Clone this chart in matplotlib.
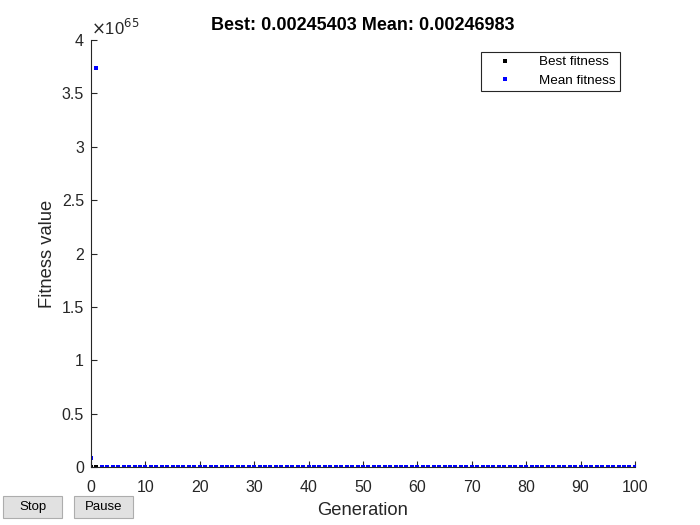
import matplotlib
matplotlib.use("Agg")
import matplotlib.pyplot as plt
from matplotlib.patches import Rectangle
from matplotlib.ticker import FuncFormatter

plt.rcParams['font.family'] = ['Liberation Sans', 'DejaVu Sans']

generations = list(range(101))

# best fitness per generation (tiny compared with the 1e65 scale)
best_fitness = [
    0.8312, 0.2147, 0.0473, 0.0121, 0.0061, 0.0043, 0.0035, 0.0031, 0.0029, 0.0028,
    0.00272, 0.00266, 0.00262, 0.00259, 0.00257, 0.00255, 0.00254, 0.00253, 0.00252, 0.00251,
    0.00250, 0.00250, 0.00249, 0.00249, 0.00249, 0.00248, 0.00248, 0.00248, 0.00248, 0.00247,
    0.00247, 0.00247, 0.00247, 0.00247, 0.00247, 0.00246, 0.00246, 0.00246, 0.00246, 0.00246,
    0.00246, 0.00246, 0.00246, 0.00246, 0.00246, 0.00246, 0.00246, 0.00246, 0.00246, 0.00246,
    0.00246, 0.00246, 0.00246, 0.00246, 0.00246, 0.00246, 0.00246, 0.00246, 0.00246, 0.00246,
    0.00246, 0.00246, 0.00246, 0.00246, 0.00246, 0.00246, 0.00246, 0.00246, 0.00246, 0.00246,
    0.00246, 0.00246, 0.00246, 0.00246, 0.00245, 0.00245, 0.00245, 0.00245, 0.00245, 0.00245,
    0.00245, 0.00245, 0.00245, 0.00245, 0.00245, 0.00245, 0.00245, 0.00245, 0.00245, 0.00245,
    0.00245, 0.00245, 0.00245, 0.00245, 0.00245, 0.00245, 0.00245, 0.00245, 0.00245, 0.00245,
    0.00245403,
]

# mean fitness per generation: huge blow-up at generations 0 and 1
mean_fitness = [
    9.0e63, 3.74e65, 2.3e12, 4.1e5, 35.2, 1.84, 0.412, 0.0913, 0.0312, 0.0124,
    0.0071, 0.0049, 0.0039, 0.0034, 0.0031, 0.0029, 0.0028, 0.0027, 0.00265, 0.00262,
    0.00259, 0.00257, 0.00255, 0.00254, 0.00253, 0.00252, 0.00251, 0.00251, 0.00250, 0.00250,
    0.00249, 0.00249, 0.00249, 0.00249, 0.00248, 0.00248, 0.00248, 0.00248, 0.00248, 0.00248,
    0.00248, 0.00248, 0.00247, 0.00247, 0.00247, 0.00247, 0.00247, 0.00247, 0.00247, 0.00247,
    0.00247, 0.00247, 0.00247, 0.00247, 0.00247, 0.00247, 0.00247, 0.00247, 0.00247, 0.00247,
    0.00247, 0.00247, 0.00247, 0.00247, 0.00247, 0.00247, 0.00247, 0.00247, 0.00247, 0.00247,
    0.00247, 0.00247, 0.00247, 0.00247, 0.00247, 0.00247, 0.00247, 0.00247, 0.00247, 0.00247,
    0.00247, 0.00247, 0.00247, 0.00247, 0.00247, 0.00247, 0.00247, 0.00247, 0.00247, 0.00247,
    0.00247, 0.00247, 0.00247, 0.00247, 0.00247, 0.00247, 0.00247, 0.00247, 0.00247, 0.00247,
    0.00246983,
]

title = "Best: 0.00245403 Mean: 0.00246983"
y_ticks = [0, 0.5e65, 1e65, 1.5e65, 2e65, 2.5e65, 3e65, 3.5e65, 4e65]
x_ticks = list(range(0, 101, 10))

fig = plt.figure(figsize=(7, 5.25), dpi=100)
ax = fig.add_axes([0.13, 0.11, 0.777, 0.814])

ax.plot(generations, best_fitness, 's', color='black', markersize=2.4,
        markeredgewidth=0, label='Best fitness')
ax.plot(generations, mean_fitness, 's', color=(0, 0, 1), markersize=2.4,
        markeredgewidth=0, label='Mean fitness')

ax.set_xlim(0, 100)
ax.set_ylim(0, 4e65)
ax.set_xticks(x_ticks)
ax.set_yticks(y_ticks)
ax.yaxis.set_major_formatter(FuncFormatter(lambda v, p: f'{v / 1e65:g}'))

for s in ['top', 'right']:
    ax.spines[s].set_visible(False)
for s in ['left', 'bottom']:
    ax.spines[s].set_color('#262626')
    ax.spines[s].set_linewidth(0.8)
ax.tick_params(direction='in', length=4, width=0.8, colors='#262626',
               labelsize=11.5, labelcolor='#262626')
ax.tick_params(axis='x', pad=9)
ax.tick_params(axis='y', pad=5)

ax.text(0.0, 1.005, r'$\times$10$^{65}$', transform=ax.transAxes,
        fontsize=12, color='#262626', ha='left', va='bottom')

ax.set_title(title, fontsize=13, fontweight='bold', pad=7)
ax.set_xlabel('Generation', fontsize=13.2, color='#262626', labelpad=5)
ax.set_ylabel('Fitness value', fontsize=13.2, color='#262626', labelpad=4)

leg = ax.legend(loc='upper right', bbox_to_anchor=(0.972, 0.972), borderaxespad=0,
                fontsize=9.7, fancybox=False, edgecolor='#262626', framealpha=1,
                handlelength=3.0, handletextpad=1.0, markerscale=1.2,
                borderpad=0.3, labelspacing=0.45)
leg.get_frame().set_linewidth(0.8)

# Stop / Pause buttons of the GA plot window
for x0, label in [(3, 'Stop'), (74, 'Pause')]:
    fig.patches.append(Rectangle((x0 / 700, 7 / 525), 59 / 700, 22 / 525,
                                 transform=fig.transFigure, facecolor='#e1e1e1',
                                 edgecolor='#adadad', linewidth=0.8))
    fig.text((x0 + 29.5) / 700, 18 / 525, label, ha='center', va='center',
             fontsize=9.5, color='black')

fig.savefig('out.png', dpi=100)
